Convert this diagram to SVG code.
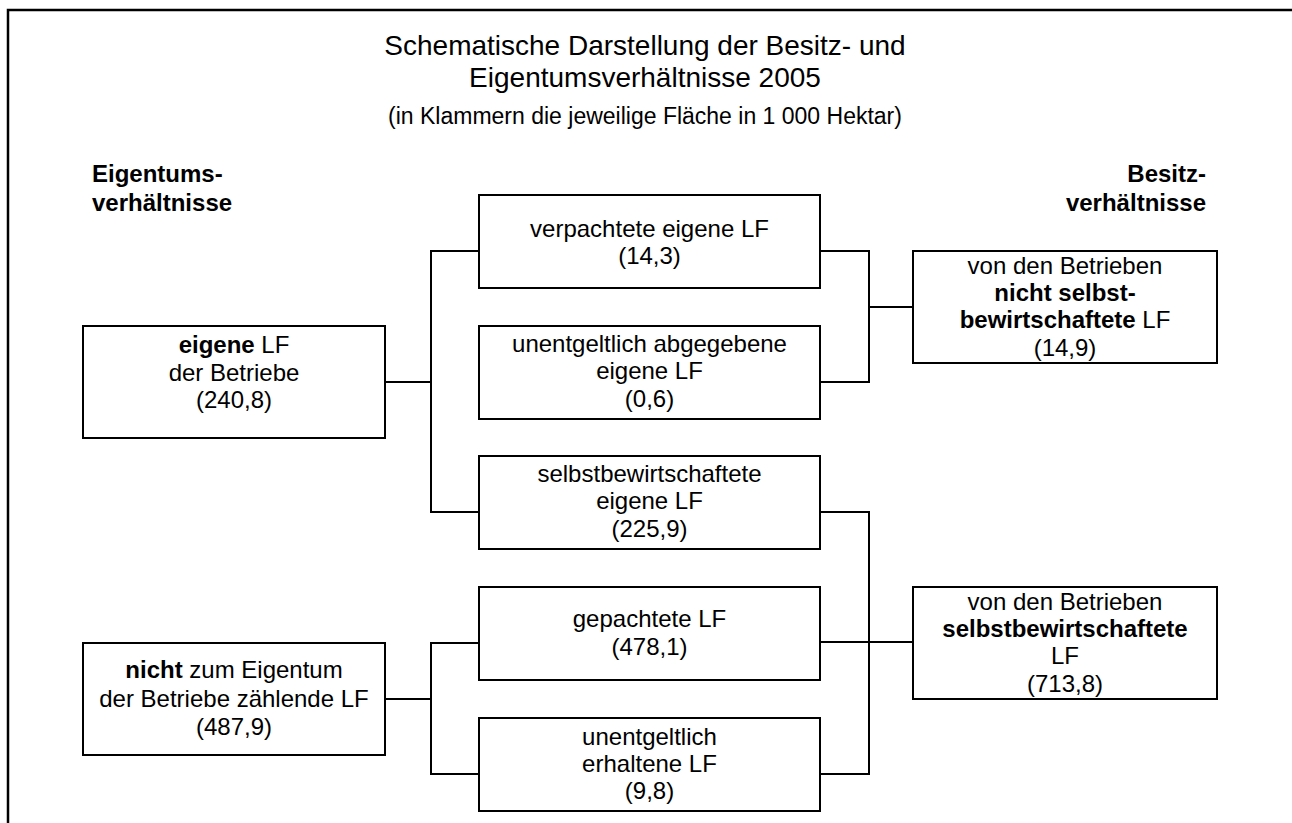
<svg xmlns="http://www.w3.org/2000/svg" width="1292" height="823" viewBox="0 0 1292 823">
<style>
text{font-family:"Liberation Sans",Arial,sans-serif;fill:#000}
.t{font-size:24px;text-anchor:middle}
.b{font-weight:bold}
.box{fill:#fff;stroke:#000;stroke-width:2}
.con{fill:none;stroke:#000;stroke-width:2}
</style>
<rect width="1292" height="823" fill="#fff"/>
<path d="M8,823 V10 H1292" fill="none" stroke="#000" stroke-width="2.5"/>
<g id="title">
<text x="645" y="55" style="font-size:28px;text-anchor:middle">Schematische Darstellung der Besitz- und</text>
<text x="645" y="87" style="font-size:28px;text-anchor:middle">Eigentumsverhältnisse 2005</text>
<text x="645" y="124" style="font-size:23px;text-anchor:middle">(in Klammern die jeweilige Fläche in 1 000 Hektar)</text>
</g>
<g id="label-eigentum">
<text x="92" y="182" class="b" style="font-size:24px">Eigentums-</text>
<text x="92" y="211" class="b" style="font-size:24px">verhältnisse</text>
</g>
<g id="label-besitz">
<text x="1206" y="182" class="b" style="font-size:24px;text-anchor:end">Besitz-</text>
<text x="1206" y="211" class="b" style="font-size:24px;text-anchor:end">verhältnisse</text>
</g>
<g id="connectors">
<path class="con" d="M385,382 H431 M479,251 H431 V512 H479"/>
<path class="con" d="M820,251 H869 V382 H820 M869,307 H913"/>
<path class="con" d="M385,699 H431 M479,643 H431 V774 H479"/>
<path class="con" d="M820,512 H869 V774 H820 M820,642 H913"/>
</g>
<g id="eigene">
<rect class="box" x="83" y="326" width="302" height="112"/>
<text class="t" x="234" y="353"><tspan class="b">eigene</tspan> LF</text>
<text class="t" x="234" y="380.5">der Betriebe</text>
<text class="t" x="234" y="408">(240,8)</text>
</g>
<g id="nicht-eigene">
<rect class="box" x="83" y="643" width="302" height="112"/>
<text class="t" x="234" y="677.5"><tspan class="b">nicht</tspan> zum Eigentum</text>
<text class="t" x="234" y="706.5">der Betriebe zählende LF</text>
<text class="t" x="234" y="735">(487,9)</text>
</g>
<g id="verpachtete">
<rect class="box" x="479" y="195" width="341" height="93"/>
<text class="t" x="649.5" y="236.5">verpachtete eigene LF</text>
<text class="t" x="649.5" y="264">(14,3)</text>
</g>
<g id="unentgeltlich-abgegebene">
<rect class="box" x="479" y="326" width="341" height="93"/>
<text class="t" x="649.5" y="351.5">unentgeltlich abgegebene</text>
<text class="t" x="649.5" y="379">eigene LF</text>
<text class="t" x="649.5" y="406.5">(0,6)</text>
</g>
<g id="selbstbewirtschaftete-eigene">
<rect class="box" x="479" y="456" width="341" height="93"/>
<text class="t" x="649.5" y="481.5">selbstbewirtschaftete</text>
<text class="t" x="649.5" y="509">eigene LF</text>
<text class="t" x="649.5" y="537">(225,9)</text>
</g>
<g id="gepachtete">
<rect class="box" x="479" y="587" width="341" height="93"/>
<text class="t" x="649.5" y="627">gepachtete LF</text>
<text class="t" x="649.5" y="655">(478,1)</text>
</g>
<g id="unentgeltlich-erhaltene">
<rect class="box" x="479" y="718" width="341" height="93"/>
<text class="t" x="649.5" y="744.5">unentgeltlich</text>
<text class="t" x="649.5" y="772">erhaltene LF</text>
<text class="t" x="649.5" y="799">(9,8)</text>
</g>
<g id="nicht-selbstbewirtschaftete">
<rect class="box" x="913" y="251" width="304" height="112"/>
<text class="t" x="1065" y="273.5">von den Betrieben</text>
<text class="t b" x="1065" y="301">nicht selbst-</text>
<text class="t" x="1065" y="328"><tspan class="b">bewirtschaftete</tspan> LF</text>
<text class="t" x="1065" y="355.5">(14,9)</text>
</g>
<g id="selbstbewirtschaftete">
<rect class="box" x="913" y="587" width="304" height="112"/>
<text class="t" x="1065" y="610">von den Betrieben</text>
<text class="t b" x="1065" y="637">selbstbewirtschaftete</text>
<text class="t" x="1065" y="664">LF</text>
<text class="t" x="1065" y="691.5">(713,8)</text>
</g>
</svg>
